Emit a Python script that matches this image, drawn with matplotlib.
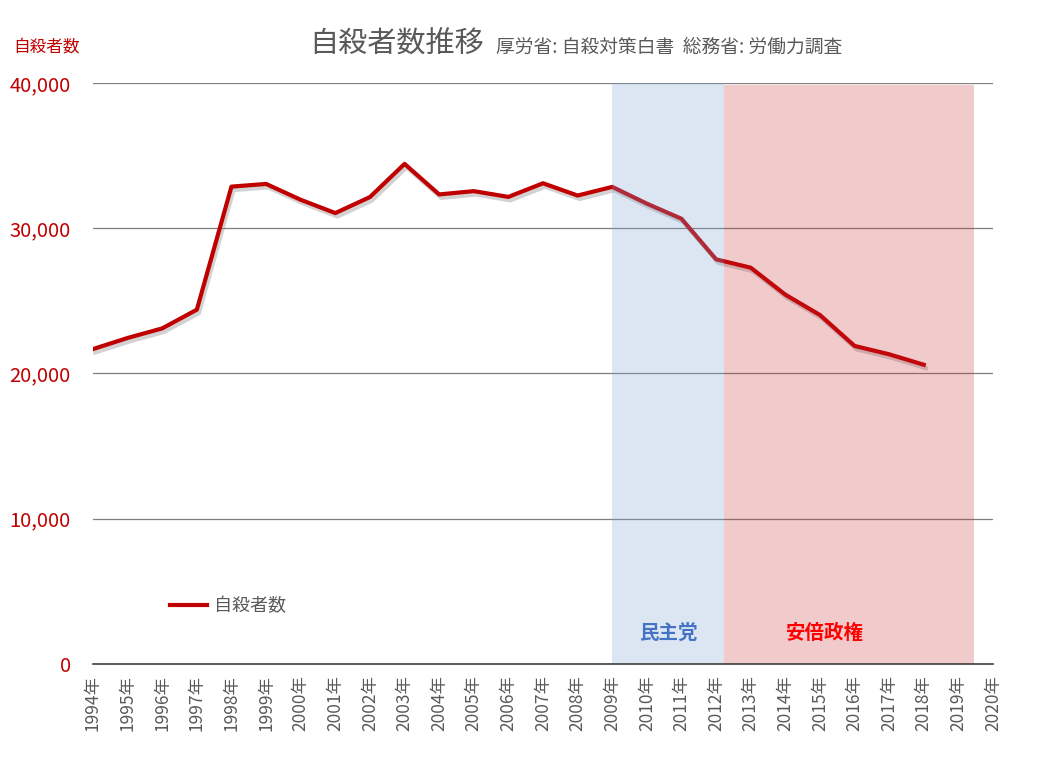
import numpy as np
import matplotlib
matplotlib.use("Agg")
import matplotlib.pyplot as plt
import matplotlib.patheffects as pe

plt.rcParams['font.family'] = ['Noto Sans CJK JP', 'DejaVu Sans']

# --- Datos ---
years = np.arange(1994, 2019)
suicides = [21679, 22445, 23104, 24391, 32863, 33048, 31957, 31042, 32143, 34427,
            32325, 32552, 32155, 33093, 32249, 32845, 31690, 30651, 27858, 27283,
            25427, 24025, 21897, 21321, 20600]
tick_years = np.arange(1994, 2021)
tick_labels = [f"{y}年" for y in tick_years]

dpj_span = (2009.0, 2012.23)      # 民主党
abe_span = (2012.23, 2019.45)     # 安倍政権

red = '#C00000'
gray = '#595959'

fig = plt.figure(figsize=(10.64, 7.68), dpi=100)
ax = fig.add_axes([0.0874, 0.1354, 0.8459, 0.7566])

ax.plot(years, suicides, color=red, lw=3.0, zorder=3,
        path_effects=[pe.SimpleLineShadow(offset=(1.5, -2.5), shadow_color='#808080', alpha=0.35),
                      pe.Normal()])
# entrada de leyenda sin sombra
ax.plot([], [], color=red, lw=3.0, label='自殺者数')

# áreas de gobierno (encima de la línea, semitransparentes)
ax.axvspan(*dpj_span, ymin=0, ymax=1.0, color='#7FA6D5', alpha=0.27, lw=0, zorder=4)
ax.axvspan(*abe_span, ymin=0, ymax=0.996, color='#C8252B', alpha=0.24, lw=0, zorder=4)

ax.text(np.mean(dpj_span), 2100, '民主党', color='#4472C4', fontsize=14,
        fontweight='bold', ha='center', va='center', zorder=5)
ax.text(2015.15, 2100, '安倍政権', color='#FF0000', fontsize=14,
        fontweight='bold', ha='center', va='center', zorder=5)

ax.set_xlim(1994, 2020)
ax.set_ylim(0, 40000)
ax.set_yticks([0, 10000, 20000, 30000, 40000])
ax.set_yticklabels(['0', '10,000', '20,000', '30,000', '40,000'], color=red, fontsize=14.5)
ax.tick_params(axis='y', length=0, pad=16)
ax.grid(axis='y', color='#7F7F7F', lw=0.9)
ax.set_axisbelow(True)

ax.set_xticks(tick_years)
ax.set_xticklabels(tick_labels, rotation=90, color=gray, fontsize=12.5)
ax.tick_params(axis='x', which='major', length=0, pad=8)
ax.set_xticks(np.arange(1994, 2021, 2), minor=True)
ax.tick_params(axis='x', which='minor', length=6, direction='in', color='#404040', width=1)

for s in ['left', 'right', 'top']:
    ax.spines[s].set_visible(False)
ax.spines['bottom'].set_color('#404040')
ax.spines['bottom'].set_linewidth(1.2)
ax.spines['bottom'].set_zorder(6)

leg = ax.legend(loc='center left', bbox_to_anchor=(0.068, 0.1), frameon=False,
                handlelength=2.0, handletextpad=0.4, fontsize=13)
for t in leg.get_texts():
    t.set_color(gray)

fig.text(80 / 1064, 1 - 47 / 768, '自殺者数', color=red, fontsize=12, ha='right', va='center')
fig.text(484 / 1064, 1 - 45 / 768, '自殺者数推移', color=gray, fontsize=21, ha='right', va='center')
fig.text(496 / 1064, 1 - 47 / 768, '厚労省: 自殺対策白書  総務省: 労働力調査', color=gray,
         fontsize=13.5, ha='left', va='center')

fig.savefig('out.png', dpi=100)
